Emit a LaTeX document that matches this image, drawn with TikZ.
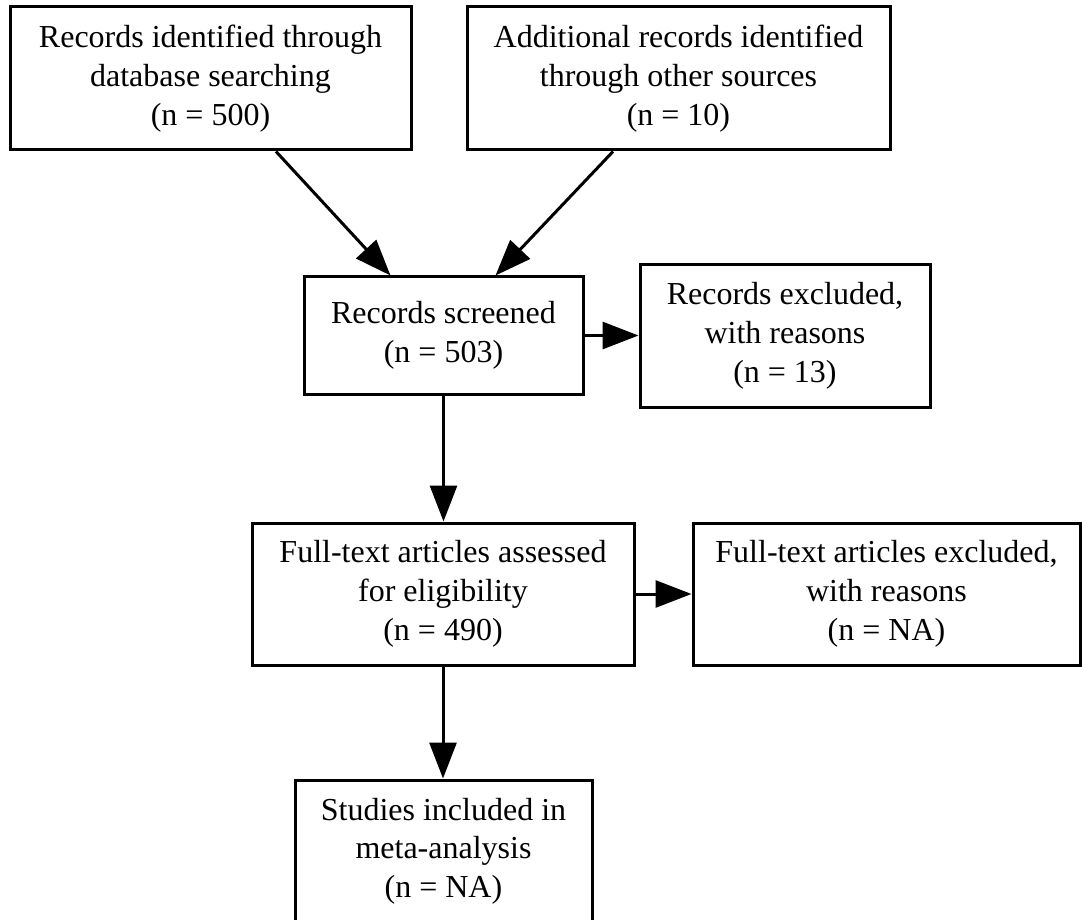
\documentclass[tikz,border=0pt]{standalone}
\usepackage{fontspec}
\setmainfont{Liberation Serif}
\usetikzlibrary{arrows.meta}
\begin{document}
\begin{tikzpicture}[x=1pt,y=-1pt,
  box/.style={draw, line width=3pt, align=center, inner sep=0pt,
    font=\fontsize{32}{38.7}\selectfont},
  arr/.style={line width=3pt, -{Triangle[length=36pt,width=27pt]}}]
\useasboundingbox (0,0) rectangle (1082,920);
\node[box, minimum width=401pt, minimum height=143pt] (tl) at (210.5,78.5)
  {Records identified through\\database searching\\(n = 500)};
\node[box, minimum width=423pt, minimum height=143pt] (tr) at (678.5,78.5)
  {Additional records identified\\through other sources\\(n = 10)};
\node[box, minimum width=279pt, minimum height=117pt] (scr) at (443.5,335.5)
  {Records screened\\(n = 503)};
\node[box, minimum width=290pt, minimum height=142pt] (rex) at (785,336)
  {Records excluded,\\with reasons\\(n = 13)};
\node[box, minimum width=382pt, minimum height=142pt] (fta) at (443,594)
  {Full-text articles assessed\\for eligibility\\(n = 490)};
\node[box, minimum width=387pt, minimum height=142pt] (fte) at (886.5,594)
  {Full-text articles excluded,\\with reasons\\(n = NA)};
\node[box, minimum width=297pt, minimum height=142pt] (inc) at (443.5,851)
  {Studies included in\\meta-analysis\\(n = NA)};
\draw[arr] ([xshift=65.5pt]tl.south) -- ([xshift=-53pt]scr.north);
\draw[arr] ([xshift=-65.5pt]tr.south) -- ([xshift=52pt]scr.north);
\draw[arr] (scr.east) -- (scr.east -| rex.west);
\draw[arr] (scr.south) -- (scr.south |- fta.north);
\draw[arr] (fta.east) -- (fta.east -| fte.west);
\draw[arr] (fta.south) -- (fta.south |- inc.north);
\end{tikzpicture}
\end{document}
